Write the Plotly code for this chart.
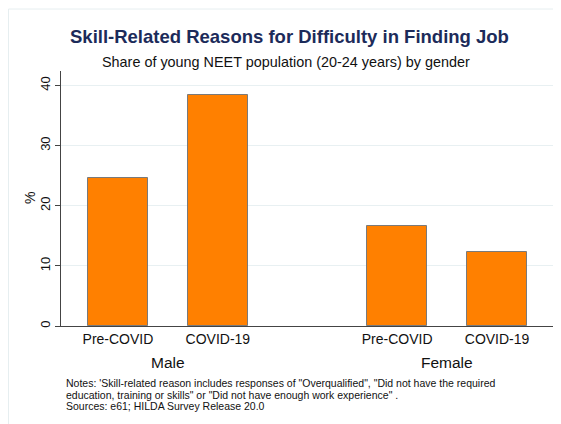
import plotly.graph_objects as go

# ---- data ----
groups = ["Male", "Female"]
periods = ["Pre-COVID", "COVID-19"]
values = {
    "Male": [24.6, 38.4],
    "Female": [16.6, 12.3],
}
y_ticks = [0, 10, 20, 30, 40]

title = "Skill-Related Reasons for Difficulty in Finding Job"
subtitle = "Share of young NEET population (20-24 years) by gender"
notes = [
    "Notes: 'Skill-related reason includes responses of \"Overqualified\", \"Did not have the required",
    "education, training or skills\" or \"Did not have enough work experience\" .",
    "Sources: e61; HILDA Survey Release 20.0",
]

# ---- layout constants (page pixel coordinates) ----
W, H = 561, 424
OFF = 8                          # default page body margin
L, R, T, B = 61, 553, 71, 326    # plot area in page pixels
GROUP_STEP = 2.795
BAR_W = 0.6

def px_x(px):
    return (px - L) / (R - L)

def px_y(py):
    return (B - py) / (B - T)

xs, ys, texts = [], [], []
centers = []
for gi, g in enumerate(groups):
    pos = [gi * GROUP_STEP + i for i in range(len(periods))]
    xs += pos
    ys += values[g]
    texts += periods
    centers.append(sum(pos) / len(pos))

fig = go.Figure(go.Bar(
    x=xs, y=ys, width=BAR_W,
    marker=dict(color="#ff8000", line=dict(color="#7a7a7a", width=1)),
    hoverinfo="y",
))

font_family = "Liberation Sans, Arial, Helvetica, sans-serif"

annotations = [
    dict(text="<b>%s</b>" % title, x=px_x(289), y=px_y(36), xref="paper", yref="paper",
         showarrow=False, font=dict(size=18.5, color="#1c2b5a", family=font_family),
         xanchor="center", yanchor="middle"),
    dict(text=subtitle, x=px_x(286), y=px_y(62), xref="paper", yref="paper",
         showarrow=False, font=dict(size=14.4, color="#111111", family=font_family),
         xanchor="center", yanchor="middle"),
    dict(text="%", x=px_x(30), y=px_y(198), xref="paper", yref="paper", textangle=-90,
         showarrow=False, font=dict(size=14, color="#111111", family=font_family),
         xanchor="center", yanchor="middle"),
]
for g, c in zip(groups, centers):
    annotations.append(dict(text=g, x=c, y=px_y(362), xref="x", yref="paper",
                            showarrow=False, font=dict(size=15.5, color="#111111", family=font_family),
                            xanchor="center", yanchor="middle"))
for i, line in enumerate(notes):
    annotations.append(dict(text=line, x=px_x(64), y=px_y(383 + i * 11.5), xref="paper", yref="paper",
                            showarrow=False, font=dict(size=10.5, color="#111111", family=font_family),
                            xanchor="left", yanchor="middle"))

xmin = xs[0] - BAR_W / 2 - 27 / 100
xmax = xs[-1] + BAR_W / 2 + 26 / 100

fig.update_layout(
    width=W - OFF, height=H - OFF,
    margin=dict(l=L - OFF, r=W - R, t=T - OFF, b=H - B, pad=0, autoexpand=False),
    paper_bgcolor="white", plot_bgcolor="white",
    showlegend=False,
    font=dict(family=font_family, color="#111111"),
    bargap=0,
    xaxis=dict(
        range=[xmin, xmax], automargin=False,
        tickmode="array", tickvals=xs, ticktext=texts,
        tickfont=dict(size=14, color="#111111"),
        ticks="", showgrid=False, zeroline=False,
        showline=True, linecolor="#444444", linewidth=1,
    ),
    yaxis=dict(
        range=[0, 42.4], automargin=False,
        tickmode="array", tickvals=y_ticks,
        tickangle=-90,
        tickfont=dict(size=13, color="#111111"),
        ticks="outside", ticklen=5, tickcolor="#444444",
        showgrid=True, gridcolor="#e8f0f2", gridwidth=1,
        zeroline=False,
        showline=True, linecolor="#444444", linewidth=1,
    ),
    annotations=annotations,
    shapes=[dict(type="rect", xref="paper", yref="paper",
                 x0=px_x(8.5), x1=px_x(600), y0=px_y(600), y1=px_y(9),
                 line=dict(color="#e6eef0", width=1), fillcolor="rgba(0,0,0,0)", layer="below")],
)

fig.write_html("out.html")
